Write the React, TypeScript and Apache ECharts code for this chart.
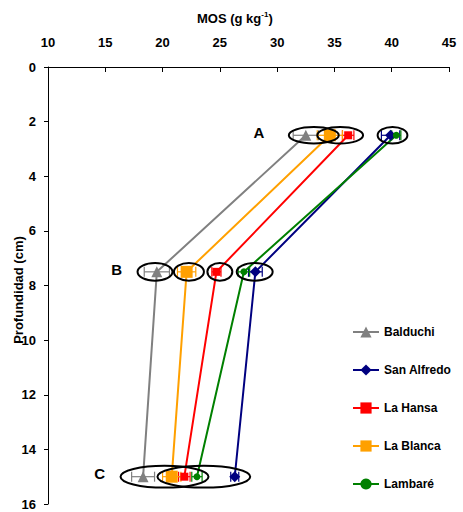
import React, { useEffect, useRef } from "react";
import * as echarts from "echarts";

const depths = [2.5, 7.5, 15];
const seriesNames = ["Balduchi", "San Alfredo", "La Hansa", "La Blanca", "Lambaré"];
const balduchi = [32.5, 19.5, 18.3];
const sanAlfredo = [39.9, 28.1, 26.3];
const laHansa = [36.2, 24.7, 21.9];
const laBlanca = [34.6, 22.1, 20.8];
const lambare = [40.4, 27.1, 23.0];
const balduchiErr = [1.1, 1.1, 1.0];
const sanAlfredoErr = [0.8, 0.6, 0.35];
const laHansaErr = [0.5, 0.4, 0.5];
const laBlancaErr = [1.1, 0.8, 0.8];
const lambareErr = [0.4, 0.5, 0.45];
// ellipse annotations: [centerX, depth, width, height] in data units
const ellipses = [
  [33.2, 2.5, 4.36, 0.6],
  [35.5, 2.5, 4.0, 0.6],
  [40.07, 2.5, 2.6, 0.6],
  [19.34, 7.5, 3.05, 0.65],
  [22.3, 7.5, 2.62, 0.65],
  [25.0, 7.5, 2.18, 0.65],
  [28.04, 7.5, 3.14, 0.65],
  [20.17, 15, 7.68, 0.8],
  [23.6, 15, 8.1, 0.8],
];
const groupLabels: [number, number, string][] = [
  [28.4, 2.4, "A"],
  [16.0, 7.4, "B"],
  [14.5, 14.9, "C"],
];
const xTicks = { min: 10, max: 45, interval: 5 };
const yTicks = { min: 0, max: 16, interval: 2 };

const colors = ["#808080", "#000080", "#FF0000", "#FFA000", "#008000"];
const symbols = ["triangle", "diamond", "rect", "rect", "circle"];
const symbolSizes = [11, 11, 8, 12, 7];
const values = [balduchi, sanAlfredo, laHansa, laBlanca, lambare];
const errors = [balduchiErr, sanAlfredoErr, laHansaErr, laBlancaErr, lambareErr];

const FONT = "'Liberation Sans Narrow', 'Liberation Sans', Arial, sans-serif";

export default function App() {
  const ref = useRef<HTMLDivElement>(null);
  useEffect(() => {
    if (!ref.current) return;
    const chart = echarts.init(ref.current, undefined, { renderer: "svg" });

    const lineSeries = seriesNames.map((name, i) => ({
      name,
      type: "line",
      data: values[i].map((v, k) => [v, depths[k]]),
      symbol: symbols[i],
      symbolSize: symbolSizes[i],
      itemStyle: { color: colors[i] },
      lineStyle: { color: colors[i], width: 2 },
      z: 5,
    }));

    const errSeries = seriesNames.map((name, i) => ({
      name: name + "-err",
      type: "custom",
      data: values[i].map((v, k) => [v, depths[k], errors[i][k]]),
      renderItem: (params: any, api: any) => {
        const x = api.value(0);
        const y = api.value(1);
        const e = api.value(2);
        const p1 = api.coord([x - e, y]);
        const p2 = api.coord([x + e, y]);
        const cap = 5;
        const st = { stroke: colors[i], lineWidth: 1.2 };
        return {
          type: "group",
          children: [
            { type: "line", shape: { x1: p1[0], y1: p1[1], x2: p2[0], y2: p2[1] }, style: st },
            { type: "line", shape: { x1: p1[0], y1: p1[1] - cap, x2: p1[0], y2: p1[1] + cap }, style: st },
            { type: "line", shape: { x1: p2[0], y1: p2[1] - cap, x2: p2[0], y2: p2[1] + cap }, style: st },
          ],
        };
      },
      z: 4,
    }));

    const option: any = {
      animation: false,
      textStyle: { fontFamily: FONT },
      title: {
        text: "MOS (g kg{sup|-1})",
        left: 192,
        top: 5,
        textStyle: {
          fontFamily: FONT,
          fontWeight: "bold",
          fontSize: 13,
          color: "#000",
          rich: {
            sup: { fontSize: 8, fontWeight: "bold", fontFamily: FONT, verticalAlign: "top", padding: [0, 0, 8, 0] },
          },
        },
      },
      legend: {
        data: seriesNames,
        orient: "vertical",
        left: 352,
        top: 326,
        padding: 0,
        height: 184,
        itemGap: 26,
        itemWidth: 26,
        itemHeight: 14,
        textStyle: { fontFamily: FONT, fontWeight: "bold", fontSize: 12, color: "#000" },
      },
      grid: { left: 48, right: 14, top: 67, bottom: 8, outerBoundsMode: "none", containLabel: false },
      xAxis: {
        type: "value",
        position: "top",
        min: xTicks.min,
        max: xTicks.max,
        interval: xTicks.interval,
        axisLine: { show: true, lineStyle: { color: "#000", width: 1 } },
        axisTick: { show: true, inside: true, length: 5, lineStyle: { color: "#000" } },
        axisLabel: { color: "#000", fontWeight: "bold", fontSize: 13, fontFamily: FONT, margin: 18 },
        splitLine: { show: false },
      },
      yAxis: {
        type: "value",
        inverse: true,
        min: yTicks.min,
        max: yTicks.max,
        interval: yTicks.interval,
        axisLine: { show: true, lineStyle: { color: "#000", width: 1 } },
        axisTick: { show: true, length: 4, lineStyle: { color: "#000" } },
        axisLabel: { color: "#000", fontWeight: "bold", fontSize: 13, fontFamily: FONT, margin: 12 },
        splitLine: { show: false },
      },
      series: [
        ...errSeries,
        ...lineSeries,
        {
          name: "ellipses",
          type: "custom",
          data: ellipses,
          clip: false,
          renderItem: (params: any, api: any) => {
            const c = api.coord([api.value(0), api.value(1)]);
            const s = api.size([api.value(2), api.value(3)]);
            return {
              type: "ellipse",
              shape: { cx: c[0], cy: c[1], rx: s[0] / 2, ry: s[1] / 2 },
              style: { fill: "none", stroke: "#000", lineWidth: 2 },
            };
          },
          z: 6,
        },
      ],
    };
    chart.setOption(option);

    const graphic: any[] = groupLabels.map((g) => {
      const p = chart.convertToPixel({ gridIndex: 0 }, [g[0], g[1]]) as number[];
      return {
        type: "text",
        x: p[0],
        y: p[1],
        z: 10,
        style: {
          text: g[2],
          fill: "#000",
          fontFamily: FONT,
          fontWeight: "bold",
          fontSize: 15,
          align: "center",
          verticalAlign: "middle",
        },
      };
    });
    graphic.push({
      type: "text",
      x: 18,
      y: 290,
      rotation: Math.PI / 2,
      z: 10,
      style: {
        text: "Profundidad (cm)",
        fill: "#000",
        fontFamily: FONT,
        fontWeight: "bold",
        fontSize: 13,
        align: "center",
        verticalAlign: "middle",
      },
    });
    chart.setOption({ graphic });

    return () => chart.dispose();
  }, []);
  return <div ref={ref} style={{ width: 463, height: 512, position: "absolute", left: 0, top: 0 }} />;
}
